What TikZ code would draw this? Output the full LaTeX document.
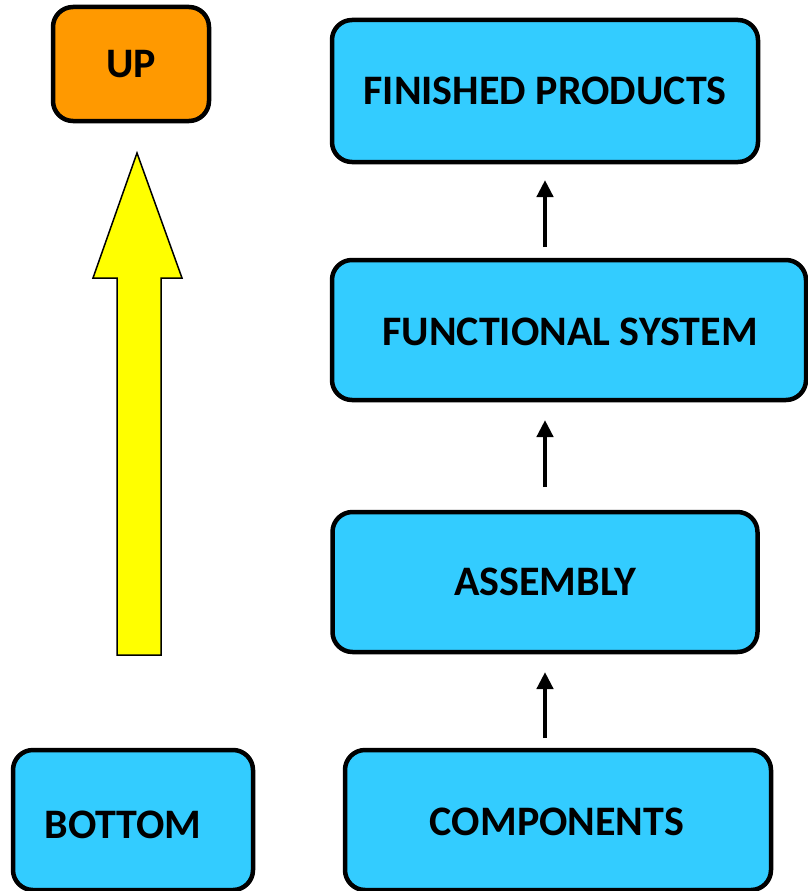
\documentclass[tikz,border=0pt]{standalone}
\usepackage{fontspec}
\setmainfont{Carlito}
\usetikzlibrary{arrows.meta}
\definecolor{boxblue}{HTML}{33CCFF}
\definecolor{boxorange}{HTML}{FF9900}
\definecolor{arrowyellow}{HTML}{FFFF00}
\tikzset{
  x=1pt, y=-1pt,
  stage/.style={draw=black, line width=4.5pt, fill=boxblue, rounded corners=20pt,
    inner sep=0pt, font=\bfseries\fontsize{42}{46}\selectfont},
  lbl/.style={inner sep=0pt, font=\bfseries\fontsize{42}{46}\selectfont},
  flow/.style={line width=4.5pt, -{Triangle[width=16pt,length=17pt]}},
}
\begin{document}
\begin{tikzpicture}
\useasboundingbox (0,0) rectangle (807,891);

% direction marker on the left
\node[stage, fill=boxorange, minimum width=156pt, minimum height=114pt] (up) at (131,64) {UP};
\node[stage, minimum width=240pt, minimum height=140pt] (bottom) at (133,820) {};
\node[lbl] (bottomtxt) at (123,825) {BOTTOM};

% big yellow arrow
\draw[line width=1.5pt, fill=arrowyellow, line join=miter]
  (117,655) -- (117,278) -- (93,278) -- (137,153) -- (182,278) -- (161,278) -- (161,655) -- cycle;

% stages of the build-up
\node[stage, minimum width=426pt, minimum height=142pt] (fin) at (545,91) {FINISHED PRODUCTS};
\node[stage, minimum width=474pt, minimum height=140pt] (func) at (569,330) {};
\node[lbl] (functxt) at (570,332) {FUNCTIONAL SYSTEM};
\node[stage, minimum width=425pt, minimum height=140pt] (asm) at (545,582) {ASSEMBLY};
\node[stage, minimum width=426pt, minimum height=140pt] (comp) at (558,820) {};
\node[lbl] (comptxt) at (557,822) {COMPONENTS};

% arrows between stages
\coordinate (a1s) at (545,247); \coordinate (a1e) at (545,180);
\coordinate (a2s) at (545,487); \coordinate (a2e) at (545,420);
\coordinate (a3s) at (545,738); \coordinate (a3e) at (545,672);
\draw[flow] (a1s) -- (a1e);
\draw[flow] (a2s) -- (a2e);
\draw[flow] (a3s) -- (a3e);
\end{tikzpicture}
\end{document}
